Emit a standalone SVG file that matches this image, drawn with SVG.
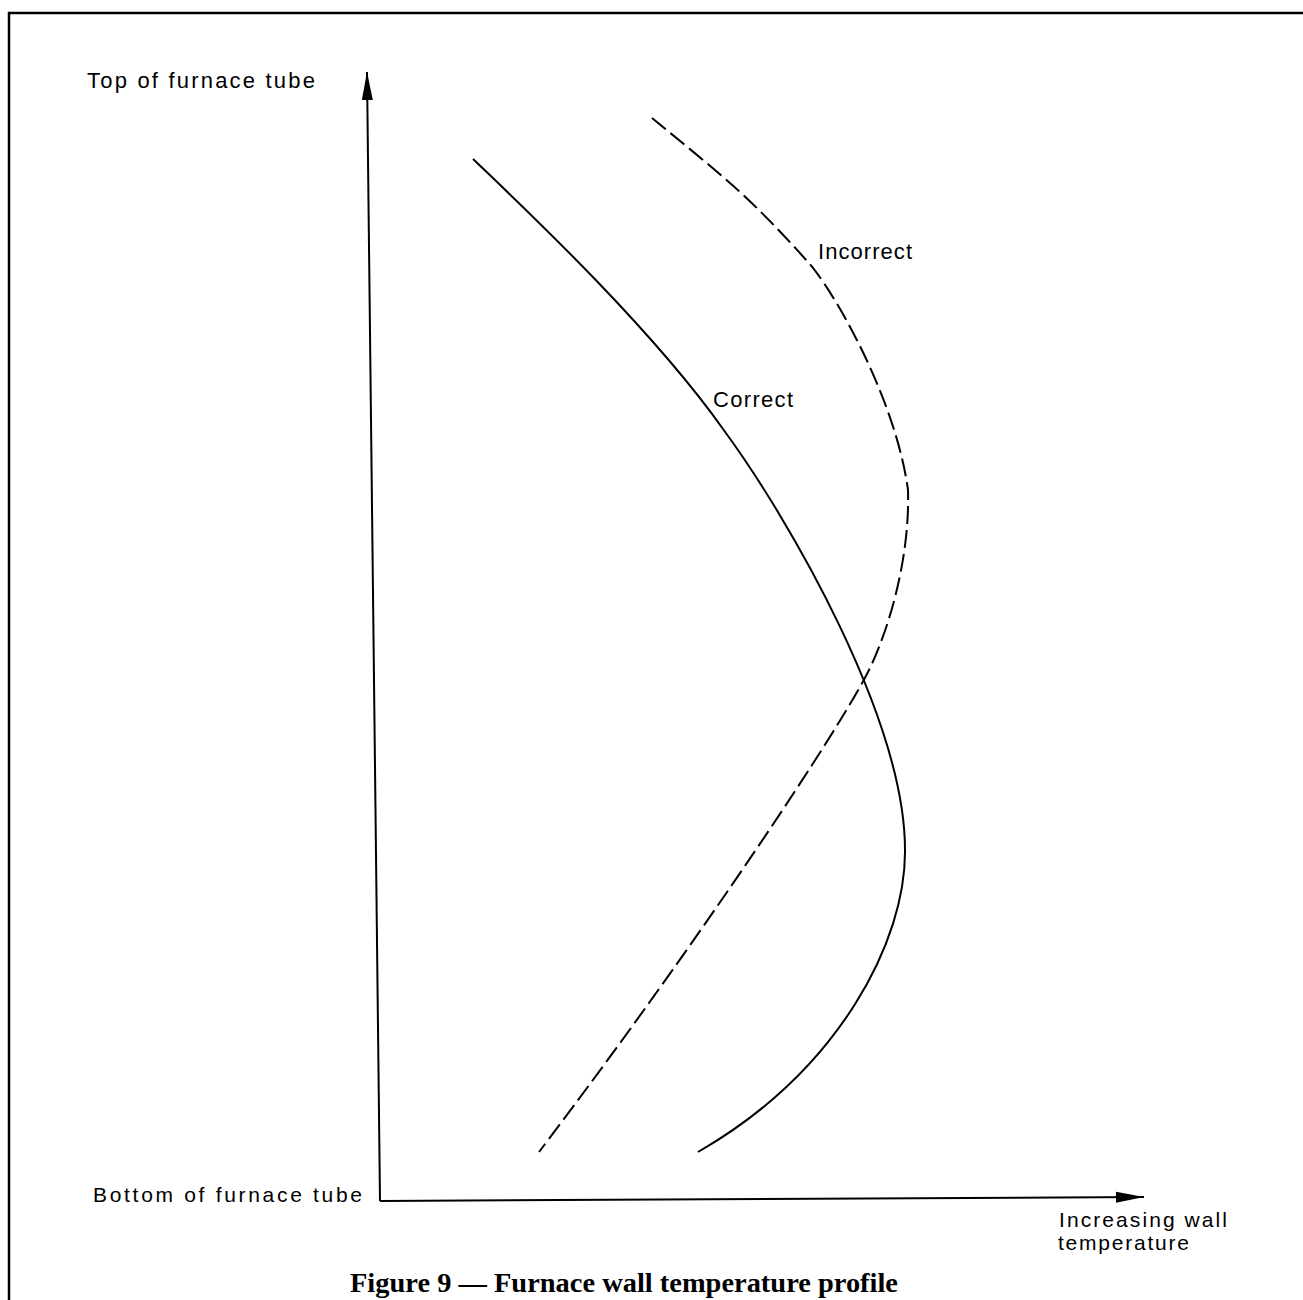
<svg xmlns="http://www.w3.org/2000/svg" width="1303" height="1300" viewBox="0 0 1303 1300">
<style>
.lbl{font-family:"Liberation Sans","DejaVu Sans",sans-serif;font-size:21px;fill:#000}
.cap{font-family:"Liberation Serif","DejaVu Serif",serif;font-size:27px;font-weight:bold;fill:#000}
.ax{stroke:#000;stroke-width:2;fill:none}
.crv{stroke:#000;stroke-width:2;fill:none}
</style>
<defs>
<marker id="arr" markerUnits="userSpaceOnUse" markerWidth="30" markerHeight="14" refX="28" refY="6" orient="auto">
<path d="M0,0.5 L28,6 L0,11.5 Z" fill="#000"/>
</marker>
</defs>
<rect width="1303" height="1300" fill="#fff"/>
<path d="M9,1300 V13 H1303" stroke="#000" stroke-width="2.5" fill="none"/>
<g id="connectors">
<path id="y-axis" class="ax" d="M380,1201 L367,72" marker-end="url(#arr)"/>
<path id="x-axis" class="ax" d="M380,1201 L1144,1197" marker-end="url(#arr)"/>
</g>
<g id="correct-curve">
<path class="crv" d="M473,159 C520,204 650,326 723,429 C790,520 905,720 905,850 C906,940 840,1070 698,1152"/>
</g>
<g id="incorrect-curve">
<path class="crv" stroke-dasharray="18 6" d="M652,118 C666.7,130.3 714,168 740,192 C766,216 786.8,238.5 808,262 C831,287 895,395 908,490 C910,560 888,632 868,672 C840,728 700,940 539,1152"/>
</g>
<g id="label-top"><text class="lbl" x="87" y="88" textLength="228" lengthAdjust="spacing" style="font-size:22px">Top of furnace tube</text></g>
<g id="label-bottom"><text class="lbl" x="93" y="1202" textLength="269" lengthAdjust="spacing">Bottom of furnace tube</text></g>
<g id="label-x"><text class="lbl" x="1059" y="1227" textLength="168" lengthAdjust="spacing">Increasing wall</text><text class="lbl" x="1058" y="1250" textLength="131" lengthAdjust="spacing">temperature</text></g>
<g id="label-incorrect"><text class="lbl" x="818" y="259" textLength="94" lengthAdjust="spacing" style="font-size:22px">Incorrect</text></g>
<g id="label-correct"><text class="lbl" x="713" y="407" textLength="80" lengthAdjust="spacing" style="font-size:22px">Correct</text></g>
<g id="caption"><text class="cap" x="350" y="1292" textLength="548" lengthAdjust="spacingAndGlyphs">Figure 9 — Furnace wall temperature profile</text></g>
</svg>
